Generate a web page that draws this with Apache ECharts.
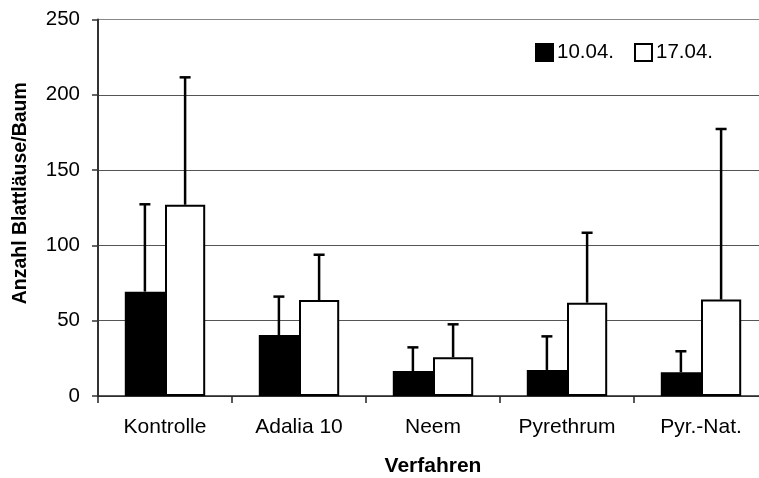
<!DOCTYPE html>
<html>
<head>
<meta charset="utf-8">
<script src="https://cdn.jsdelivr.net/npm/echarts@6/dist/echarts.min.js"></script>
<style>html,body{margin:0;padding:0;background:#fff;}#c{width:759px;height:478px;}</style>
</head>
<body>
<div id="c"></div>
<script>
var categories = ['Kontrolle', 'Adalia 10', 'Neem', 'Pyrethrum', 'Pyr.-Nat.'];
var seriesNames = ['10.04.', '17.04.'];
var mean1004 = [69.3, 40.5, 16.6, 17.3, 15.7];
var sd1004 = [58, 25.5, 15.7, 22.3, 14];
var mean1704 = [127, 63.7, 25.7, 62, 64];
var sd1704 = [84.6, 30.1, 21.9, 46.4, 113.3];
var yTicks = [0, 50, 100, 150, 200, 250];

var FONT = 'Liberation Sans, Arial, sans-serif';
var BAR_FRAC = 0.3;

function errData(means, sds) {
  return means.map(function (m, i) { return [i, m, m + sds[i]]; });
}
function errRender(sign) {
  return function (params, api) {
    var idx = api.value(0);
    var top = api.coord([idx, api.value(1)]);
    var up = api.coord([idx, api.value(2)]);
    var band = api.size([1, 0])[0];
    var x = top[0] + sign * band * BAR_FRAC / 2;
    var cap = 5.5;
    var st = { stroke: '#000', lineWidth: 2.5 };
    return {
      type: 'group',
      children: [
        { type: 'line', shape: { x1: x, y1: top[1], x2: x, y2: up[1] }, style: st },
        { type: 'line', shape: { x1: x - cap, y1: up[1], x2: x + cap, y2: up[1] }, style: st }
      ]
    };
  };
}

var chart = echarts.init(document.getElementById('c'), null, { renderer: 'canvas' });
chart.setOption({
  animation: false,
  backgroundColor: '#fff',
  textStyle: { fontFamily: FONT, color: '#000' },
  grid: { left: 98, top: 19.5, width: 670, height: 376.5, containLabel: false, outerBoundsMode: 'none' },
  legend: {
    data: seriesNames,
    left: 535, top: 42, padding: 0,
    itemWidth: 17, itemHeight: 17, itemGap: 20,
    icon: 'rect',
    textStyle: { fontFamily: FONT, fontSize: 20.5, color: '#000', padding: [0, 0, 0, -1] }
  },
  xAxis: {
    type: 'category',
    data: categories,
    name: 'Verfahren',
    nameLocation: 'middle',
    nameGap: 60,
    nameTextStyle: { fontFamily: FONT, fontSize: 21, fontWeight: 'bold', color: '#000' },
    axisLine: { lineStyle: { color: '#222', width: 1.5 } },
    axisTick: { show: true, length: 7, alignWithLabel: false, lineStyle: { color: '#222', width: 1.5 } },
    axisLabel: { fontFamily: FONT, fontSize: 21, color: '#000', margin: 21 },
    splitLine: { show: false }
  },
  yAxis: {
    type: 'value',
    min: yTicks[0], max: yTicks[yTicks.length - 1], interval: 50,
    name: 'Anzahl Blattläuse/Baum',
    nameLocation: 'middle',
    nameGap: 67,
    nameTextStyle: { fontFamily: FONT, fontSize: 19.5, fontWeight: 'bold', color: '#000', padding: [0, 0, 0, 29] },
    axisLine: { show: true, lineStyle: { color: '#333', width: 2 } },
    axisTick: { show: true, length: 6, lineStyle: { color: '#333', width: 1.5 } },
    axisLabel: { fontFamily: FONT, fontSize: 20.5, color: '#000', margin: 18 },
    splitLine: { show: true, lineStyle: { color: ['#555', '#555', '#555', '#555', '#555', '#888'], width: 1 } }
  },
  series: [
    {
      name: seriesNames[0], type: 'bar', data: mean1004,
      barWidth: (BAR_FRAC * 100) + '%', barGap: '0%',
      itemStyle: { color: '#000', borderColor: '#000', borderWidth: 2 }, z: 2
    },
    {
      name: seriesNames[1], type: 'bar', data: mean1704,
      barWidth: (BAR_FRAC * 100) + '%', barGap: '0%',
      itemStyle: { color: '#fff', borderColor: '#000', borderWidth: 2 }, z: 2
    },
    {
      type: 'custom', name: 'err1', data: errData(mean1004, sd1004),
      renderItem: errRender(-1), encode: { x: 0, y: [1, 2] }, z: 5, silent: true
    },
    {
      type: 'custom', name: 'err2', data: errData(mean1704, sd1704),
      renderItem: errRender(1), encode: { x: 0, y: [1, 2] }, z: 5, silent: true
    }
  ]
});
</script>
</body>
</html>
